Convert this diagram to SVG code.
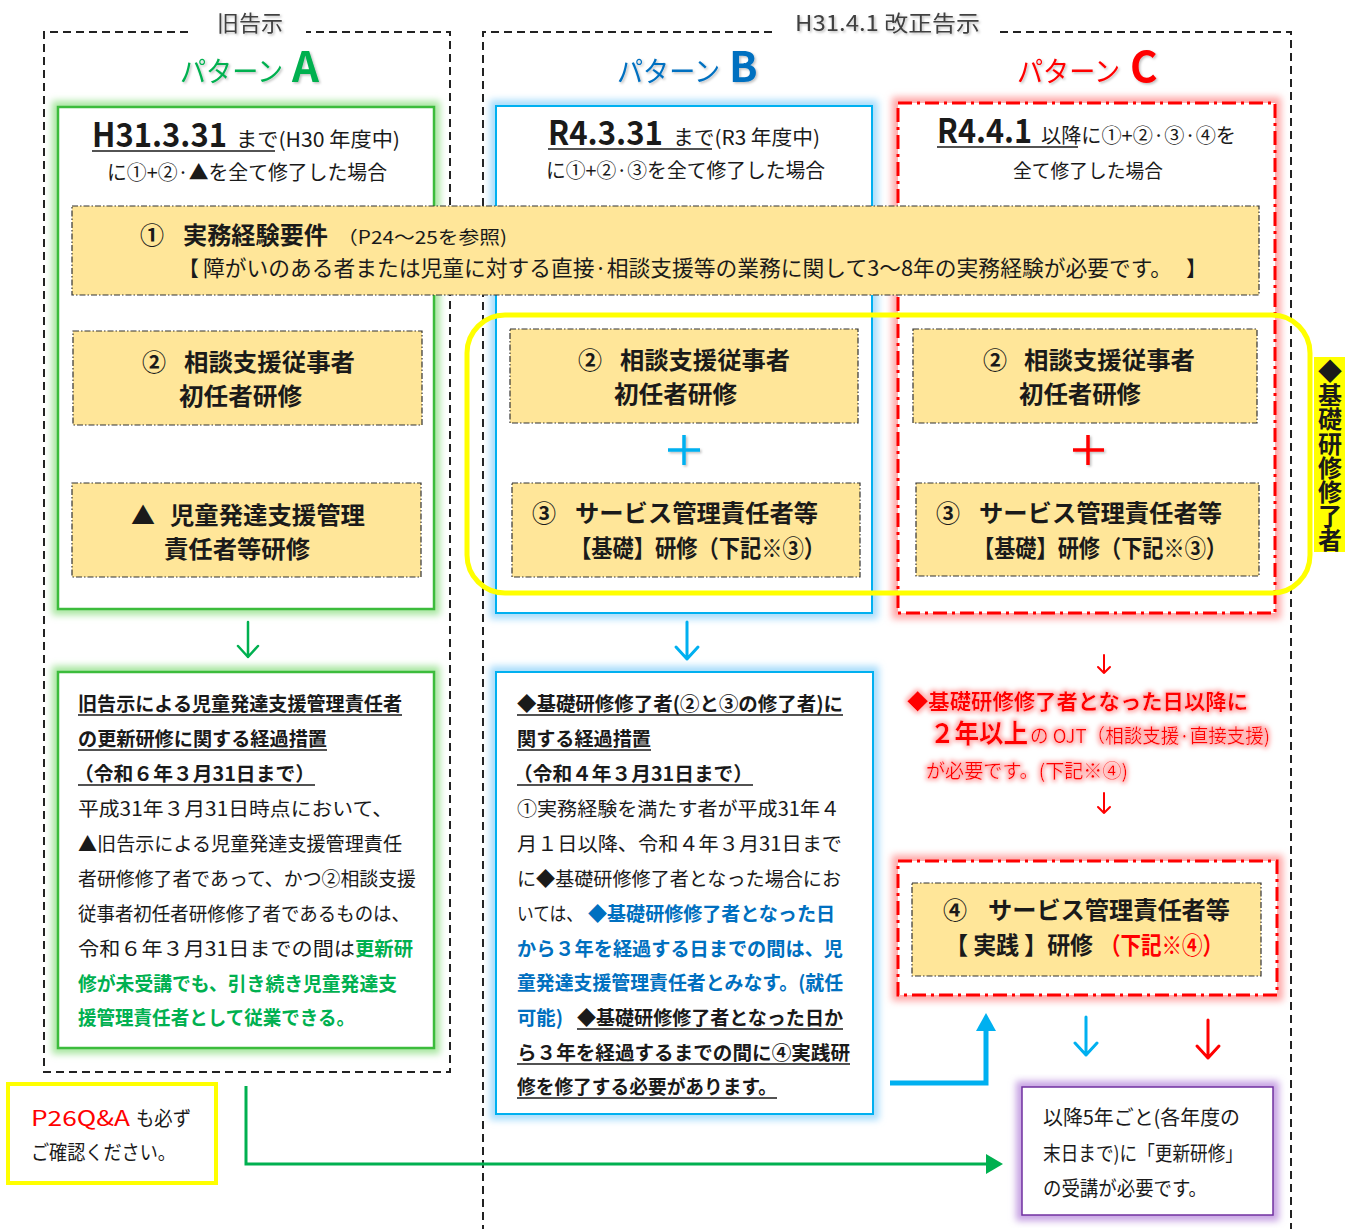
<svg xmlns="http://www.w3.org/2000/svg" width="1345" height="1229" viewBox="0 0 1345 1229">
<style>
text{font-family:'Noto Sans CJK JP','Noto Sans',sans-serif;fill:#1a1a1a}
.b{font-weight:700}
.g{fill:#00b050}
.bl{fill:#0070c0}
.r{fill:#ff0000}
.gray{fill:#404040}
.yb{fill:#ffe699;stroke:#333;stroke-width:1.2;stroke-dasharray:6 2 1.5 2}
.ul{stroke:#1a1a1a;stroke-width:1.5}
.frame{fill:none;stroke:#222;stroke-width:2;stroke-dasharray:8 5}
.glow{fill:none;stroke-width:12}
.grn{fill:#fff;stroke:#3cbc3c;stroke-width:2.5}
.blu{fill:#fff;stroke:#00b0f0;stroke-width:2}
.red{fill:#fff;stroke:#ff0000;stroke-width:3;stroke-dasharray:14 5 3 5}
.arr{fill:none;stroke-linecap:round;stroke-linejoin:round}
</style>
<defs>
<filter id="blur" x="-10%" y="-10%" width="120%" height="120%"><feGaussianBlur stdDeviation="3.5"/></filter>
<filter id="shadow" x="-10%" y="-20%" width="130%" height="150%"><feDropShadow dx="1.5" dy="1.5" stdDeviation="1" flood-color="#000" flood-opacity="0.25"/></filter>
<filter id="redglow" x="-5%" y="-30%" width="110%" height="160%">
<feMorphology in="SourceAlpha" operator="dilate" radius="1.5" result="d"/>
<feGaussianBlur in="d" stdDeviation="2" result="bd"/>
<feFlood flood-color="#ffb3b3"/>
<feComposite in2="bd" operator="in" result="gl"/>
<feMerge><feMergeNode in="gl"/><feMergeNode in="SourceGraphic"/></feMerge>
</filter>
</defs>

<!-- outer frames -->
<g id="frame-old">
<path class="frame" d="M188,32 H44 V1072 H450 V32 H306"/>
<text class="gray" x="217" y="31" font-size="22" textLength="66" lengthAdjust="spacingAndGlyphs" filter="url(#shadow)">旧告示</text>
</g>
<g id="frame-new">
<path class="frame" d="M772,32 H483 V1229 M1000,32 H1291 V1229"/>
<text class="gray" x="795" y="31" font-size="22" textLength="185" lengthAdjust="spacingAndGlyphs" filter="url(#shadow)">H31.4.1 改正告示</text>
</g>

<!-- pattern A -->
<g id="patternA">
<text class="g" x="180" y="82" font-size="28" textLength="103" lengthAdjust="spacingAndGlyphs" filter="url(#shadow)">パターン</text>
<text class="g b" x="292" y="82" font-size="42" filter="url(#shadow)">A</text>
<rect x="58" y="107" width="376" height="502" class="glow" stroke="#a8e6a0" filter="url(#blur)"/>
<rect x="58" y="107" width="376" height="502" class="grn"/>
<text class="b" x="92" y="147" font-size="33" textLength="135" lengthAdjust="spacingAndGlyphs">H31.3.31</text>
<text x="236" y="147" font-size="20" textLength="164" lengthAdjust="spacingAndGlyphs">まで(H30 年度中)</text>
<line class="ul" x1="92" y1="151" x2="275" y2="151" stroke-width="2"/>
<text x="107" y="180" font-size="20" textLength="280" lengthAdjust="spacingAndGlyphs">に①+②·▲を全て修了した場合</text>
</g>

<!-- pattern B -->
<g id="patternB">
<text class="bl" x="617" y="82" font-size="28" textLength="103" lengthAdjust="spacingAndGlyphs" filter="url(#shadow)">パターン</text>
<text class="bl b" x="729" y="82" font-size="42" filter="url(#shadow)">B</text>
<rect x="496" y="106" width="376" height="507" class="glow" stroke="#a9ddfb" filter="url(#blur)"/>
<rect x="496" y="106" width="376" height="507" class="blu"/>
<text class="b" x="548" y="145" font-size="33" textLength="115" lengthAdjust="spacingAndGlyphs">R4.3.31</text>
<text x="673" y="145" font-size="20" textLength="147" lengthAdjust="spacingAndGlyphs">まで(R3 年度中)</text>
<line class="ul" x1="548" y1="149" x2="712" y2="149" stroke-width="2"/>
<text x="546" y="178" font-size="20" textLength="279" lengthAdjust="spacingAndGlyphs">に①+②·③を全て修了した場合</text>
</g>

<!-- pattern C -->
<g id="patternC">
<text class="r" x="1017" y="82" font-size="28" textLength="103" lengthAdjust="spacingAndGlyphs" filter="url(#shadow)">パターン</text>
<text class="r b" x="1130" y="82" font-size="42" filter="url(#shadow)">C</text>
<rect x="898" y="103" width="377" height="510" class="glow" stroke="#ffa8a8" filter="url(#blur)"/>
<rect x="898" y="103" width="377" height="510" class="red"/>
<text class="b" x="937" y="143" font-size="33" textLength="95" lengthAdjust="spacingAndGlyphs">R4.4.1</text>
<text x="1041" y="143" font-size="20" textLength="195" lengthAdjust="spacingAndGlyphs">以降に①+②·③·④を</text>
<line class="ul" x1="937" y1="147" x2="1078" y2="147" stroke-width="2"/>
<text x="1013" y="178" font-size="19" textLength="150" lengthAdjust="spacingAndGlyphs">全て修了した場合</text>
</g>

<!-- yellow highlight of basic training -->
<g id="basic-highlight">
<rect x="467" y="315" width="843" height="278" rx="38" fill="none" stroke="#ffff00" stroke-width="5"/>
<rect x="1314" y="357" width="32" height="195" fill="#ffff00"/>
<text class="b" x="1330" y="359" font-size="24" textLength="193" lengthAdjust="spacingAndGlyphs" style="writing-mode:vertical-rl;text-orientation:upright">◆基礎研修修了者</text>
</g>

<!-- ① -->
<g id="req1">
<rect class="yb" x="72" y="206" width="1187" height="89"/>
<text class="b" x="140" y="244" font-size="24">①</text>
<text class="b" x="183" y="244" font-size="24" textLength="145" lengthAdjust="spacingAndGlyphs">実務経験要件</text>
<text x="337" y="244" font-size="18" textLength="170" lengthAdjust="spacingAndGlyphs">（P24～25を参照)</text>
<text x="178" y="276" font-size="21">【</text>
<text x="203" y="276" font-size="21.5" textLength="969" lengthAdjust="spacingAndGlyphs">障がいのある者または児童に対する直接·相談支援等の業務に関して3～8年の実務経験が必要です。</text>
<text x="1186" y="276" font-size="21">】</text>
</g>

<g id="A-2">
<rect class="yb" x="73" y="331" width="349" height="94"/>
<text class="b" x="142" y="371" font-size="24">②</text>
<text class="b" x="184" y="371" font-size="24" textLength="171" lengthAdjust="spacingAndGlyphs">相談支援従事者</text>
<text class="b" x="179" y="405" font-size="24" textLength="123" lengthAdjust="spacingAndGlyphs">初任者研修</text>
</g>
<g id="A-tri">
<rect class="yb" x="72" y="483" width="349" height="94"/>
<text class="b" x="131" y="524" font-size="24">▲</text>
<text class="b" x="170" y="524" font-size="24" textLength="195" lengthAdjust="spacingAndGlyphs">児童発達支援管理</text>
<text class="b" x="164" y="558" font-size="24" textLength="146" lengthAdjust="spacingAndGlyphs">責任者等研修</text>
</g>

<g id="B-2">
<rect class="yb" x="510" y="329" width="348" height="94"/>
<text class="b" x="578" y="369" font-size="24">②</text>
<text class="b" x="620" y="369" font-size="24" textLength="170" lengthAdjust="spacingAndGlyphs">相談支援従事者</text>
<text class="b" x="614" y="403" font-size="24" textLength="123" lengthAdjust="spacingAndGlyphs">初任者研修</text>
</g>
<g id="B-plus"><path d="M668,450 H700 M684,435 V465" stroke="#00b0f0" stroke-width="3.5" filter="url(#shadow)"/></g>
<g id="B-3">
<rect class="yb" x="512" y="483" width="348" height="94"/>
<text class="b" x="532" y="522" font-size="24">③</text>
<text class="b" x="575" y="522" font-size="24" textLength="243" lengthAdjust="spacingAndGlyphs">サービス管理責任者等</text>
<text class="b" x="570" y="557" font-size="24" textLength="255" lengthAdjust="spacingAndGlyphs">【基礎】研修（下記※③）</text>
</g>

<g id="C-2">
<rect class="yb" x="913" y="329" width="344" height="94"/>
<text class="b" x="983" y="369" font-size="24">②</text>
<text class="b" x="1024" y="369" font-size="24" textLength="171" lengthAdjust="spacingAndGlyphs">相談支援従事者</text>
<text class="b" x="1019" y="403" font-size="24" textLength="122" lengthAdjust="spacingAndGlyphs">初任者研修</text>
</g>
<g id="C-plus"><path d="M1073,450 H1104 M1088,435 V465" stroke="#ff0000" stroke-width="3.5" filter="url(#shadow)"/></g>
<g id="C-3">
<rect class="yb" x="916" y="483" width="343" height="93"/>
<text class="b" x="936" y="522" font-size="24">③</text>
<text class="b" x="979" y="522" font-size="24" textLength="243" lengthAdjust="spacingAndGlyphs">サービス管理責任者等</text>
<text class="b" x="973" y="557" font-size="24" textLength="254" lengthAdjust="spacingAndGlyphs">【基礎】研修（下記※③）</text>
</g>

<!-- A lower -->
<g id="A-transition">
<rect x="58" y="672" width="376" height="376" class="glow" stroke="#a8e6a0" filter="url(#blur)"/>
<rect x="58" y="672" width="376" height="376" class="grn"/>
<g font-size="19.5">
<text class="b" x="78" y="711" textLength="324" lengthAdjust="spacingAndGlyphs">旧告示による児童発達支援管理責任者</text>
<text class="b" x="78" y="746" textLength="249" lengthAdjust="spacingAndGlyphs">の更新研修に関する経過措置</text>
<text class="b" x="74" y="781" textLength="241" lengthAdjust="spacingAndGlyphs">（令和６年３月31日まで）</text>
<text x="78" y="816" textLength="315" lengthAdjust="spacingAndGlyphs">平成31年３月31日時点において、</text>
<text x="78" y="851" textLength="324" lengthAdjust="spacingAndGlyphs">▲旧告示による児童発達支援管理責任</text>
<text x="78" y="886" textLength="338" lengthAdjust="spacingAndGlyphs">者研修修了者であって、かつ②相談支援</text>
<text x="78" y="921" textLength="332" lengthAdjust="spacingAndGlyphs">従事者初任者研修修了者であるものは、</text>
<text x="78" y="956" textLength="277" lengthAdjust="spacingAndGlyphs">令和６年３月31日までの間は</text>
<text class="g b" x="355" y="956" textLength="58" lengthAdjust="spacingAndGlyphs">更新研</text>
<text class="g b" x="78" y="991" textLength="319" lengthAdjust="spacingAndGlyphs">修が未受講でも、引き続き児童発達支</text>
<text class="g b" x="78" y="1025" textLength="277" lengthAdjust="spacingAndGlyphs">援管理責任者として従業できる。</text>
</g>
<path class="ul" d="M78,715 H402 M78,750 H327 M78,785 H315"/>
</g>

<!-- B lower -->
<g id="B-transition">
<rect x="496" y="672" width="377" height="442" class="glow" stroke="#a9ddfb" filter="url(#blur)"/>
<rect x="496" y="672" width="377" height="442" class="blu"/>
<g font-size="19.5">
<text class="b" x="517" y="711" textLength="326" lengthAdjust="spacingAndGlyphs">◆基礎研修修了者(②と③の修了者)に</text>
<text class="b" x="517" y="746" textLength="134" lengthAdjust="spacingAndGlyphs">関する経過措置</text>
<text class="b" x="513" y="781" textLength="240" lengthAdjust="spacingAndGlyphs">（令和４年３月31日まで）</text>
<text x="517" y="816" textLength="323" lengthAdjust="spacingAndGlyphs">①実務経験を満たす者が平成31年４</text>
<text x="517" y="851" textLength="325" lengthAdjust="spacingAndGlyphs">月１日以降、令和４年３月31日まで</text>
<text x="517" y="886" textLength="324" lengthAdjust="spacingAndGlyphs">に◆基礎研修修了者となった場合にお</text>
<text x="517" y="921" textLength="66" lengthAdjust="spacingAndGlyphs">いては、</text>
<text class="bl b" x="588" y="921" textLength="247" lengthAdjust="spacingAndGlyphs">◆基礎研修修了者となった日</text>
<text class="bl b" x="517" y="956" textLength="326" lengthAdjust="spacingAndGlyphs">から３年を経過する日までの間は、児</text>
<text class="bl b" x="517" y="990" textLength="326" lengthAdjust="spacingAndGlyphs">童発達支援管理責任者とみなす。(就任</text>
<text class="bl b" x="517" y="1025" textLength="46" lengthAdjust="spacingAndGlyphs">可能)</text>
<text class="b" x="577" y="1025" textLength="266" lengthAdjust="spacingAndGlyphs">◆基礎研修修了者となった日か</text>
<text class="b" x="517" y="1060" textLength="333" lengthAdjust="spacingAndGlyphs">ら３年を経過するまでの間に④実践研</text>
<text class="b" x="517" y="1094" textLength="260" lengthAdjust="spacingAndGlyphs">修を修了する必要があります。</text>
</g>
<path class="ul" d="M517,715 H843 M517,750 H651 M517,785 H753 M577,1029 H843 M517,1064 H850 M517,1098 H777"/>
</g>

<!-- C OJT note -->
<g id="C-ojt" filter="url(#redglow)">
<text class="r b" x="907" y="709" font-size="21" textLength="341" lengthAdjust="spacingAndGlyphs">◆基礎研修修了者となった日以降に</text>
<text class="r b" x="930" y="743" font-size="26" textLength="98" lengthAdjust="spacingAndGlyphs">２年以上</text>
<text class="r" x="1030" y="743" font-size="19" textLength="240" lengthAdjust="spacingAndGlyphs">の OJT（相談支援·直接支援)</text>
<text class="r" x="926" y="778" font-size="19" textLength="202" lengthAdjust="spacingAndGlyphs">が必要です。(下記※④)</text>
</g>

<!-- ④ -->
<g id="C-4">
<rect x="898" y="861" width="379" height="134" class="glow" stroke="#ffa8a8" filter="url(#blur)"/>
<rect x="898" y="861" width="379" height="134" class="red"/>
<rect class="yb" x="912" y="883" width="349" height="93"/>
<text class="b" x="943" y="919" font-size="24">④</text>
<text class="b" x="988" y="919" font-size="24" textLength="242" lengthAdjust="spacingAndGlyphs">サービス管理責任者等</text>
<text class="b" x="945" y="954" font-size="24" textLength="148" lengthAdjust="spacingAndGlyphs">【 実践 】研修</text>
<text class="r b" x="1100" y="954" font-size="24" textLength="123" lengthAdjust="spacingAndGlyphs">（下記※④）</text>
</g>

<!-- renewal -->
<g id="renewal">
<rect x="1022" y="1087" width="251" height="128" class="glow" stroke="#c7a3e3" filter="url(#blur)"/>
<rect x="1022" y="1087" width="251" height="128" fill="#fff" stroke="#7030a0" stroke-width="1.5"/>
<text x="1043" y="1125" font-size="20" textLength="197" lengthAdjust="spacingAndGlyphs">以降5年ごと(各年度の</text>
<text x="1043" y="1161" font-size="20" textLength="200" lengthAdjust="spacingAndGlyphs">末日まで)に「更新研修」</text>
<text x="1043" y="1196" font-size="20" textLength="164" lengthAdjust="spacingAndGlyphs">の受講が必要です。</text>
</g>

<!-- Q&A note -->
<g id="qa-note">
<rect x="8" y="1084" width="208" height="99" fill="#fff" stroke="#ffff00" stroke-width="4"/>
<text class="r" x="31" y="1126" font-size="21" textLength="99" lengthAdjust="spacingAndGlyphs">P26Q&amp;A</text>
<text x="136" y="1126" font-size="20" textLength="55" lengthAdjust="spacingAndGlyphs">も必ず</text>
<text x="31" y="1160" font-size="20" textLength="145" lengthAdjust="spacingAndGlyphs">ご確認ください。</text>
</g>

<!-- connectors -->
<g id="connectors">
<path class="arr" d="M248,622 V657 M238,646 L248,657 L258,646" stroke="#00b050" stroke-width="2.5"/>
<path class="arr" d="M687,622 V659 M676,647 L687,659 L698,647" stroke="#00b0f0" stroke-width="3"/>
<path class="arr" d="M1104,655 V673 M1098,667 L1104,673 L1110,667" stroke="#ff0000" stroke-width="2"/>
<path class="arr" d="M1104,793 V813 M1098,807 L1104,813 L1110,807" stroke="#ff0000" stroke-width="2"/>
<path class="arr" d="M1086,1017 V1055 M1075,1043 L1086,1055 L1097,1043" stroke="#00b0f0" stroke-width="3"/>
<path class="arr" d="M1208,1020 V1058 M1197,1046 L1208,1058 L1219,1046" stroke="#ff0000" stroke-width="3"/>
<polyline points="890,1083 986,1083 986,1029" fill="none" stroke="#00b0f0" stroke-width="5"/>
<polygon points="976,1031 996,1031 986,1013" fill="#00b0f0"/>
<polyline points="246,1086 246,1164 988,1164" fill="none" stroke="#00b050" stroke-width="3"/>
<polygon points="986,1154 1003,1164 986,1174" fill="#00b050"/>
</g>
</svg>
